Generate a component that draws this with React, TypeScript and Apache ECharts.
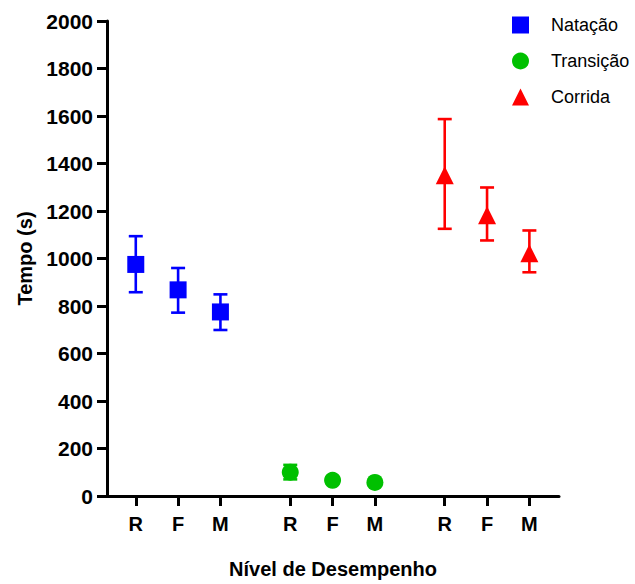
import React, { useEffect, useRef } from "react";
import * as echarts from "echarts";

const levelLabels = ["R", "F", "M"];
const seriesNames = ["Natação", "Transição", "Corrida"];
const seriesColors = ["#0000FF", "#00C000", "#FF0000"];
const seriesSymbols = ["rect", "circle", "triangle"];

const natacaoMean = [975, 868, 775];
const natacaoLow = [858, 772, 699];
const natacaoHigh = [1094, 960, 849];

const transicaoMean = [100, 66, 57];
const transicaoLow = [70, 58, 51];
const transicaoHigh = [131, 74, 63];

const corridaMean = [1351, 1182, 1022];
const corridaLow = [1125, 1076, 942];
const corridaHigh = [1587, 1299, 1118];

const yTicks = [0, 200, 400, 600, 800, 1000, 1200, 1400, 1600, 1800, 2000];

// layout: x position of each group's first level, spacing 1 within a group
const groupStarts = [1, 4.65, 8.3];

const FONT = "'Liberation Sans', Arial, sans-serif";

export default function App() {
  const ref = useRef<HTMLDivElement>(null);

  useEffect(() => {
    if (!ref.current) return;
    const chart = echarts.init(ref.current, null, { renderer: "svg" });

    const means = [natacaoMean, transicaoMean, corridaMean];
    const lows = [natacaoLow, transicaoLow, corridaLow];
    const highs = [natacaoHigh, transicaoHigh, corridaHigh];

    const tickPositions: number[] = [];
    const tickLabels: string[] = [];
    groupStarts.forEach((g) => {
      levelLabels.forEach((l, i) => {
        tickPositions.push(g + i);
        tickLabels.push(l);
      });
    });

    const labelFor = (v: number) => {
      let best = 0;
      let bd = Infinity;
      tickPositions.forEach((p, i) => {
        const d = Math.abs(p - v);
        if (d < bd) {
          bd = d;
          best = i;
        }
      });
      return bd < 0.05 ? tickLabels[best] : "";
    };

    const series: any[] = [];
    seriesNames.forEach((name, s) => {
      const errData = means[s].map((_, i) => [
        groupStarts[s] + i,
        lows[s][i],
        highs[s][i],
      ]);
      series.push({
        type: "custom",
        name: name + "-err",
        z: 2,
        data: errData,
        encode: { x: 0, y: [1, 2] },
        renderItem: (params: any, api: any) => {
          const x = api.value(0);
          const lo = api.coord([x, api.value(1)]);
          const hi = api.coord([x, api.value(2)]);
          const hw = 7;
          const style = { stroke: seriesColors[s], lineWidth: 2.6 };
          return {
            type: "group",
            children: [
              { type: "line", shape: { x1: lo[0], y1: lo[1], x2: hi[0], y2: hi[1] }, style },
              { type: "line", shape: { x1: hi[0] - hw, y1: hi[1], x2: hi[0] + hw, y2: hi[1] }, style },
              { type: "line", shape: { x1: lo[0] - hw, y1: lo[1], x2: lo[0] + hw, y2: lo[1] }, style },
            ],
          };
        },
      });
      series.push({
        type: "scatter",
        name,
        z: 5,
        symbol: seriesSymbols[s],
        symbolSize: s === 2 ? 18 : 17,
        itemStyle: { color: seriesColors[s], opacity: 1 },
        data: means[s].map((v, i) => [groupStarts[s] + i, v]),
      });
    });

    chart.setOption({
      animation: false,
      backgroundColor: "#ffffff",
      grid: { left: 107, right: 76, top: 21, bottom: 83, containLabel: false },
      legend: {
        orient: "vertical",
        left: 512,
        top: 16,
        padding: 0,
        itemWidth: 17,
        itemHeight: 17,
        itemGap: 18,
        itemStyle: { opacity: 1 },
        data: seriesNames.map((n, i) => ({ name: n, icon: seriesSymbols[i] })),
        textStyle: {
          fontFamily: FONT,
          fontSize: 18,
          color: "#000",
          padding: [0, 0, 0, 17],
        },
      },
      xAxis: {
        type: "value",
        min: 0.32,
        max: 11,
        name: "Nível de Desempenho",
        nameLocation: "middle",
        nameGap: 63,
        nameTextStyle: { fontFamily: FONT, fontSize: 20, fontWeight: "bold", color: "#000" },
        splitLine: { show: false },
        axisLine: { show: true, onZero: false, lineStyle: { color: "#000", width: 3 } },
        axisTick: {
          show: true,
          length: 10,
          customValues: tickPositions,
          lineStyle: { color: "#000", width: 3 },
        },
        axisLabel: {
          customValues: tickPositions,
          formatter: (v: number) => labelFor(v),
          margin: 18,
          fontFamily: FONT,
          fontSize: 20,
          fontWeight: "bold",
          color: "#000",
        },
      },
      yAxis: {
        type: "value",
        min: yTicks[0],
        max: yTicks[yTicks.length - 1],
        interval: yTicks[1] - yTicks[0],
        name: "Tempo (s)",
        nameLocation: "middle",
        nameGap: 64,
        nameTextStyle: { fontFamily: FONT, fontSize: 20, fontWeight: "bold", color: "#000" },
        splitLine: { show: false },
        axisLine: { show: true, lineStyle: { color: "#000", width: 3 } },
        axisTick: { show: true, length: 10, lineStyle: { color: "#000", width: 3 } },
        axisLabel: {
          margin: 14,
          formatter: (v: number) => String(v),
          fontFamily: FONT,
          fontSize: 21,
          fontWeight: "bold",
          color: "#000",
        },
      },
      series,
    });

    return () => chart.dispose();
  }, []);

  return <div ref={ref} style={{ width: 635, height: 584, position: "absolute", left: 0, top: 0 }} />;
}
